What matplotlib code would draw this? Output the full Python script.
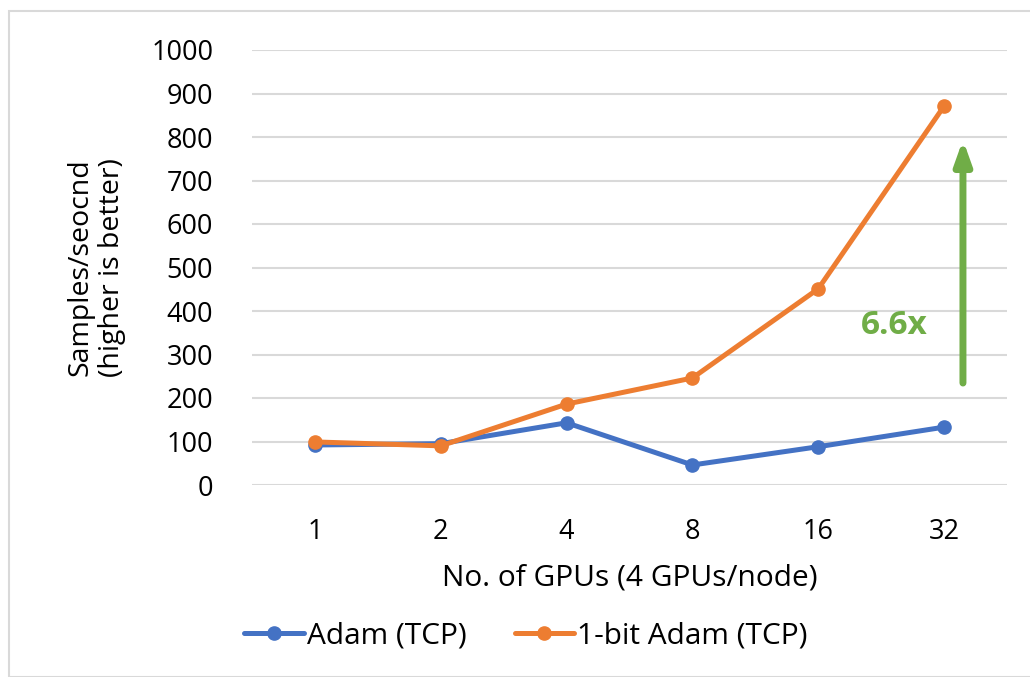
import matplotlib
matplotlib.use("Agg")
import matplotlib.pyplot as plt
from matplotlib.patches import Rectangle

gpus = ["1", "2", "4", "8", "16", "32"]
adam = [92, 95, 143, 46, 88, 133]
onebit = [99, 90, 186, 246, 451, 871]
yticks = [0, 100, 200, 300, 400, 500, 600, 700, 800, 900, 1000]

plt.rcParams['font.family'] = ['Open Sans', 'DejaVu Sans']

fig = plt.figure(figsize=(10.30, 6.77), dpi=100)
fig.patches.append(Rectangle((9/1030, 0), 1.2, 1 - 11/677, transform=fig.transFigure,
                             fill=False, edgecolor="#d9d9d9", linewidth=1.5))
ax = fig.add_axes([252/1030, 1 - 485/677, (1007 - 252)/1030, (485 - 50)/677])

x = list(range(len(gpus)))
ax.plot(x, adam, color="#4472C4", lw=3.6, marker="o", ms=9.5, label="Adam (TCP)", solid_capstyle="round")
ax.plot(x, onebit, color="#ED7D31", lw=3.6, marker="o", ms=9.5, label="1-bit Adam (TCP)", solid_capstyle="round")

ax.set_xlim(-0.5, len(gpus) - 0.5)
ax.set_ylim(0, 1000)
ax.set_yticks(yticks)
ax.set_yticklabels([str(v) for v in yticks], fontsize=19.5)
ax.set_xticks(x)
ax.set_xticklabels(gpus, fontsize=19.5)
ax.tick_params(length=0, pad=28, axis='y')
ax.tick_params(length=0, pad=24, axis='x')
ax.grid(axis='y', color="#d9d9d9", lw=1.5)
ax.set_axisbelow(True)
for s in ax.spines.values():
    s.set_visible(False)

ax.set_ylabel("Samples/seocnd\n(higher is better)", fontsize=20.5, labelpad=18, linespacing=1.15)
ax.set_xlabel("No. of GPUs (4 GPUs/node)", fontsize=21.5, labelpad=12)

ax.annotate("", xy=(5.15, 800), xytext=(5.15, 228),
            arrowprops=dict(arrowstyle="-|>,head_width=0.5,head_length=1.4", color="#70AD47", lw=5))
ax.text(4.6, 366, "6.6x", color="#70AD47", fontsize=24, fontweight="bold", ha="center", va="center")

ax.legend(loc="center", bbox_to_anchor=(0.363, -0.348), ncol=2, frameon=False,
          fontsize=21.5, handlelength=2.0, handletextpad=0.1, columnspacing=1.6)

fig.savefig("out.png", dpi=100)
